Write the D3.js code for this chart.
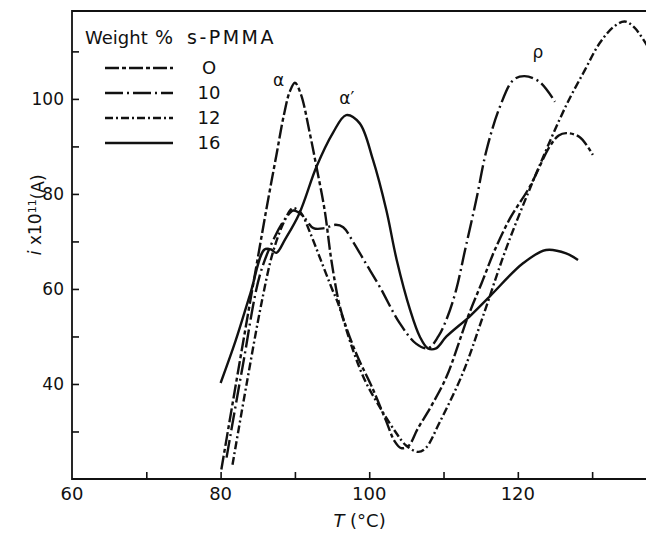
<!DOCTYPE html>
<html>
<head>
<meta charset="utf-8">
<script src="https://cdn.jsdelivr.net/npm/d3@7"></script>
<style>
  body { margin: 0; background: #fff; }
  text { font-family: "DejaVu Sans", sans-serif; fill: #111; }
  .curve { fill: none; stroke: #111; stroke-width: 2.4; stroke-linecap: butt; }
</style>
</head>
<body>
<script>
// data: [T (oC), i x 10^11 (A)]
var curve0 = [[80.1,22],[82.5,44],[84.8,64.7],[86.3,78],[87.5,88.1],[88.5,96.5],[89.3,101.5],[90,103.4],[90.8,101],
  [92,92.8],[92.9,85.7],[94,76.6],[94.9,66.1],[96,56.6],[97,51.5],[98.5,45.5],[100.3,39.6],[102.2,32.5],[103.4,28],
  [104.3,26.5],[105.3,27],[106.5,30.5],[108.4,35.5],[110.4,41.5],[113.3,54.2],[115.3,61.9],[116.9,68.2],[119,75],
  [121.6,81.5],[124.3,90],[125.5,92.3],[126.5,92.8],[128.3,92],[130.1,88.2]];
var curve10 = [[80.8,24.5],[83,44],[85.3,63],[87.3,71],[88.8,75],[89.8,76.5],[91,75.5],[92.5,72.8],[94,72.8],
  [95.5,73.5],[96.5,73],[97.8,70],[99.5,65.5],[101.4,60.5],[104.1,52.8],[106.3,48.5],[107.9,47.5],[109.3,50],
  [110.5,54],[111.7,59.8],[112.9,68.2],[114.4,78.7],[115.8,89.3],[117.6,98.4],[119.4,104],[120.9,104.8],
  [122.9,103.6],[125,99.4]];
var curve12 = [[81.6,23],[83.5,40],[85.5,57],[87,67.5],[88.5,74],[89.7,77],[90.8,76],[92,72],[93.5,66],[95,60],
  [95.8,57],[97.8,47.2],[99.5,40.5],[101.4,35.2],[103.5,30],[105,27],[106.6,25.7],[107.6,26.5],[109.5,32],
  [112.6,42.3],[115.3,54.2],[118.5,68.8],[122.5,84.4],[126.5,98.6],[129,106],[131,111.7],[133,115.3],[134.4,116.3],
  [135.7,115],[137.5,111]];
var curve16 = [[80,40.2],[82,49],[84,59],[85.9,68.3],[86.8,68.3],[87.5,67.6],[88.7,70.5],[90.6,75.9],[92.9,85.7],
  [95.1,92.8],[96.9,96.6],[98.7,94.9],[100.5,87.2],[102.3,76.6],[103.7,66.1],[105.5,55.6],[106.8,50],[107.9,47.5],
  [109,47.5],[110.4,50],[113.5,54.2],[116.2,58.4],[120.7,65.4],[123.8,68.2],[126.5,67.5],[128.1,66.1]];

var legendLabels = ["O", "10", "12", "16"];
var dashes = ["14,3,4,3", "18,4,2,4", "8,3,2,3", null];
var xTicks = [70, 80, 90, 100, 110, 120, 130];
var xLabels = [60, 80, 100, 120];
var yTicks = [30, 40, 50, 60, 70, 80, 90, 100, 110];
var yLabels = [40, 60, 80, 100];

var margin = {top: 11, right: 0, bottom: 55, left: 72},
    width = 646 - margin.left - margin.right,
    height = 534 - margin.top - margin.bottom;

var x = d3.scaleLinear().domain([60, 137.25]).range([0, width]);
var y = d3.scaleLinear().domain([20, 118.5]).range([height, 0]);

var line = d3.line()
    .x(function(d) { return x(d[0]); })
    .y(function(d) { return y(d[1]); })
    .curve(d3.curveCatmullRom.alpha(0.5));

var svg = d3.select("body").append("svg")
    .attr("width", 646)
    .attr("height", 534)
  .append("g")
    .attr("transform", "translate(" + margin.left + "," + margin.top + ")");

svg.append("clipPath").attr("id", "clip")
  .append("rect").attr("width", width).attr("height", height);

// frame: left, bottom, top (no right side)
svg.append("path")
    .attr("d", "M" + width + ",0H0V" + height + "H" + width)
    .attr("fill", "none").attr("stroke", "#111").attr("stroke-width", 1.8);

// ticks pointing inward
svg.append("g")
    .attr("transform", "translate(0," + height + ")")
    .call(d3.axisBottom(x).tickValues(xTicks).tickSize(-7).tickFormat(""))
    .call(function(g) { g.select(".domain").remove(); })
    .selectAll("line").attr("stroke", "#111").attr("stroke-width", 1.6);

svg.selectAll(".xlab").data(xLabels).enter().append("text")
    .attr("x", function(d) { return x(d); })
    .attr("y", height + 21)
    .attr("text-anchor", "middle")
    .style("font-size", "18px")
    .text(function(d) { return d; });

svg.append("g")
    .call(d3.axisLeft(y).tickValues(yTicks).tickSize(-7).tickFormat(""))
    .call(function(g) { g.select(".domain").remove(); })
    .selectAll("line").attr("stroke", "#111").attr("stroke-width", 1.6);

svg.selectAll(".ylab").data(yLabels).enter().append("text")
    .attr("x", -8)
    .attr("y", function(d) { return y(d); })
    .attr("dy", "0.36em")
    .attr("text-anchor", "end")
    .style("font-size", "17px")
    .text(function(d) { return d; });

// axis titles
var xt = svg.append("text")
    .attr("x", x(98.7))
    .attr("y", height + 48)
    .attr("text-anchor", "middle")
    .style("font-size", "18px");
xt.append("tspan").style("font-style", "italic").text("T");
xt.append("tspan").text(" (°C)");

var yt = svg.append("text")
    .attr("transform", "translate(-31," + y(75.6) + ") rotate(-90)")
    .attr("text-anchor", "middle")
    .style("font-size", "17px");
yt.append("tspan").style("font-style", "italic").text("i");
yt.append("tspan").text(" x10");
yt.append("tspan").attr("dy", "-0.45em").style("font-size", "11px").text("11");
yt.append("tspan").attr("dy", "0.45em").text("(A)");

// curves
var curves = [curve0, curve10, curve12, curve16];
svg.append("g").attr("clip-path", "url(#clip)")
  .selectAll("path").data(curves).enter().append("path")
    .attr("class", "curve")
    .attr("d", line)
    .attr("stroke-dasharray", function(d, i) { return dashes[i]; });

// peak labels
svg.append("text").attr("x", x(90) - 22).attr("y", y(103.5) + 4).style("font-size", "17px").text("α");
svg.append("text").attr("x", x(96.9) - 7).attr("y", y(98.9)).style("font-size", "17px").text("α′");
svg.append("text").attr("x", x(122.5) - 4).attr("y", y(108.6)).style("font-size", "17px").text("ρ");

// legend
var legend = svg.append("g");
var title = legend.append("text")
    .attr("y", 33)
    .style("font-size", "18px");
title.append("tspan").attr("x", 13).text("Weight");
title.append("tspan").attr("x", 83).style("font-size", "19px").text("%");
title.append("tspan").attr("x", 115).style("font-size", "19px").style("letter-spacing", "2.5px").text("s-PMMA");

var rows = legend.selectAll(".row").data(legendLabels).enter().append("g")
    .attr("transform", function(d, i) { return "translate(0," + (57 + i * 25) + ")"; });
rows.append("line")
    .attr("class", "curve")
    .attr("x1", 33).attr("x2", 101)
    .attr("stroke-dasharray", function(d, i) { return dashes[i]; });
rows.append("text")
    .attr("x", 137).attr("dy", "0.36em")
    .attr("text-anchor", "middle")
    .style("font-size", "18px")
    .text(function(d) { return d; });
</script>
</body>
</html>
